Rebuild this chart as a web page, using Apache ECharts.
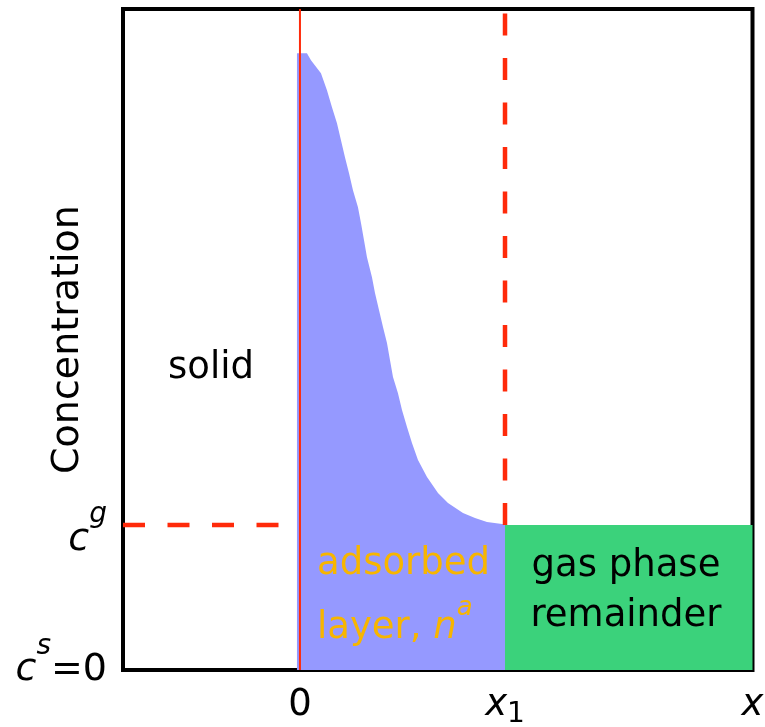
<!DOCTYPE html>
<html>
<head>
<meta charset="utf-8">
<script src="https://cdn.jsdelivr.net/npm/echarts@6/dist/echarts.min.js"></script>
<style>
  html, body { margin: 0; padding: 0; background: #fff; }
  #chart { width: 765px; height: 727px; }
</style>
</head>
<body>
<div id="chart"></div>
<script>
// Axis extents (x in units where x1 = 10, concentration in units of c^g)
const X1 = 10;
const C_GAS = 1;
const X_MIN = -8.63;
const X_MAX = 22.07;
const Y_MAX = 4.56;

// Tick positions and their labels
const xTickValues = [0, X1, X_MAX];
const xTickLabels = ['0', 'x_{1}', 'x'];
const yTickValues = [0, C_GAS];
const yTickLabels = ['c^{s}=0', 'c^{g}'];

// Concentration profile through the adsorbed layer (0 .. x1)
const profileX = [-0.146, 0.341, 0.537, 1.024, 1.317, 1.561, 1.805, 2.000, 2.195, 2.390, 2.585,
                  2.829, 2.976, 3.122, 3.268, 3.512, 3.659, 3.854, 4.049, 4.244, 4.390, 4.537,
                  4.780, 4.976, 5.220, 5.463, 5.756, 6.195, 6.732, 7.220, 7.951, 8.537, 9.122,
                  9.854, 10.0];
const profileY = [4.255, 4.255, 4.207, 4.117, 4.000, 3.883, 3.772, 3.655, 3.538, 3.428, 3.310,
                  3.193, 3.083, 2.966, 2.848, 2.710, 2.600, 2.483, 2.366, 2.255, 2.138, 2.021,
                  1.910, 1.793, 1.676, 1.566, 1.448, 1.331, 1.221, 1.152, 1.083, 1.048, 1.021,
                  1.007, 1.007];

// Remaining gas phase at bulk concentration (x1 .. x)
const gasX = [X1, X_MAX];
const gasY = [C_GAS, C_GAS];

const FONT = 'DejaVu Sans';
const RED = '#ff2a0a';
const BLUE = '#9599ff';
const GREEN = '#3bd27b';
const ORANGE = '#f7b500';

const zip = (xs, ys) => xs.map((x, i) => [x, ys[i]]);

// Turn 'c^{g}' / 'x_{1}' style strings into ECharts rich text
function richText(str, suffix) {
  let out = '';
  const re = /([\^_])\{([^}]*)\}|([A-Za-z]+)|([^A-Za-z^_]+)/g;
  let m;
  while ((m = re.exec(str))) {
    if (m[1]) out += '{' + (m[1] === '^' ? 'sup' : 'sub') + suffix + '|' + m[2] + '}';
    else if (m[3]) out += '{it' + suffix + '|' + m[3] + '}';
    else out += '{rm' + suffix + '|' + m[4] + '}';
  }
  return out;
}

const chart = echarts.init(document.getElementById('chart'), null, { renderer: 'canvas' });

const plainText = { textBorderWidth: 0, textShadowBlur: 0, opacity: 1 };

const option = {
  animation: false,
  backgroundColor: '#fff',
  grid: {
    left: 123, right: 12.5, top: 9, bottom: 57,
    containLabel: false, outerBoundsMode: 'none',
    show: true, borderColor: '#000', borderWidth: 4, backgroundColor: 'transparent'
  },
  xAxis: {
    type: 'value', min: X_MIN, max: X_MAX,
    axisLine: { show: false }, axisTick: { show: false }, splitLine: { show: false },
    axisLabel: {
      customValues: xTickValues,
      margin: 11,
      formatter: (v) => {
        const i = xTickValues.findIndex(t => Math.abs(t - v) < 1e-6);
        return i < 0 ? '' : richText(xTickLabels[i], '');
      },
      rich: {
        rm: { fontFamily: FONT, fontSize: 37, color: '#000', lineHeight: 48 },
        it: { fontFamily: FONT, fontSize: 37, fontStyle: 'italic', color: '#000', lineHeight: 48 },
        sub: { fontFamily: FONT, fontSize: 28, color: '#000', lineHeight: 28, padding: [20, 0, 0, 0] }
      }
    }
  },
  yAxis: {
    type: 'value', min: 0, max: Y_MAX,
    name: 'Concentration', nameLocation: 'middle', nameGap: 36, nameMoveOverlap: false,
    nameTextStyle: { fontFamily: FONT, fontSize: 38, color: '#000' },
    axisLine: { show: false }, axisTick: { show: false }, splitLine: { show: false },
    axisLabel: {
      customValues: yTickValues,
      margin: 16,
      formatter: (v) => {
        const i = yTickValues.findIndex(t => Math.abs(t - v) < 1e-6);
        return i < 0 ? '' : richText(yTickLabels[i], v === C_GAS ? 'G' : '');
      },
      rich: {
        rm: { fontFamily: FONT, fontSize: 38, color: '#000' },
        it: { fontFamily: FONT, fontSize: 38, fontStyle: 'italic', color: '#000' },
        sup: { fontFamily: FONT, fontSize: 28, fontStyle: 'italic', color: '#000', padding: [0, 0, 46, 0] },
        itG: { fontFamily: FONT, fontSize: 38, fontStyle: 'italic', color: '#000', padding: [30, 0, 0, 0] },
        supG: { fontFamily: FONT, fontSize: 28, fontStyle: 'italic', color: '#000', padding: [0, 0, 20, 0] }
      }
    }
  },
  series: [
    {
      // adsorbed layer profile
      type: 'line', data: zip(profileX, profileY), symbol: 'none', silent: true,
      lineStyle: { width: 0 }, areaStyle: { color: BLUE, opacity: 1 }, z: 2
    },
    {
      // gas phase remainder
      type: 'line', data: zip(gasX, gasY), symbol: 'none', silent: true,
      lineStyle: { width: 0 }, areaStyle: { color: GREEN, opacity: 1 }, z: 2
    },
    {
      // solid surface at x = 0
      type: 'line', data: [[0, 0], [0, Y_MAX]], symbol: 'none', silent: true, clip: false,
      lineStyle: { color: RED, width: 2 }, z: 5
    },
    {
      // dividing plane at x1
      type: 'line', data: [[X1, C_GAS], [X1, Y_MAX]], symbol: 'none', silent: true,
      lineStyle: { color: RED, width: 4.5, type: [22, 22.5] }, z: 5
    },
    {
      // bulk gas concentration reference
      type: 'line', data: [[X_MIN, C_GAS], [0, C_GAS]], symbol: 'none', silent: true,
      lineStyle: { color: RED, width: 4.5, type: [22, 22.5] }, z: 5
    },
    {
      // region captions
      type: 'scatter', symbolSize: 0, silent: true, z: 10,
      itemStyle: { color: 'transparent', opacity: 1 },
      data: [
        {
          value: [-4.34, 2.08],
          label: Object.assign({ show: true, position: 'inside', formatter: 'solid',
                   fontFamily: FONT, fontSize: 37, color: '#000' }, plainText)
        },
        {
          value: [15.9, 0.545],
          label: Object.assign({ show: true, position: 'inside', formatter: 'gas phase\nremainder',
                   fontFamily: FONT, fontSize: 37, lineHeight: 50, color: '#000' }, plainText)
        },
        {
          value: [0.83, 0.51],
          label: Object.assign({
            show: true, position: 'right', distance: 0, align: 'left',
            formatter: '{t|adsorbed}\n{t|layer, }{n|n}{a|a}',
            rich: {
              t: { fontFamily: FONT, fontSize: 37, lineHeight: 64, color: ORANGE },
              n: { fontFamily: FONT, fontSize: 37, lineHeight: 64, fontStyle: 'italic', color: ORANGE },
              a: { fontFamily: FONT, fontSize: 26, lineHeight: 24, fontStyle: 'italic', color: ORANGE,
                   padding: [0, 0, 40, 0] }
            }
          }, plainText)
        }
      ]
    }
  ]
};

chart.setOption(option);
</script>
</body>
</html>
